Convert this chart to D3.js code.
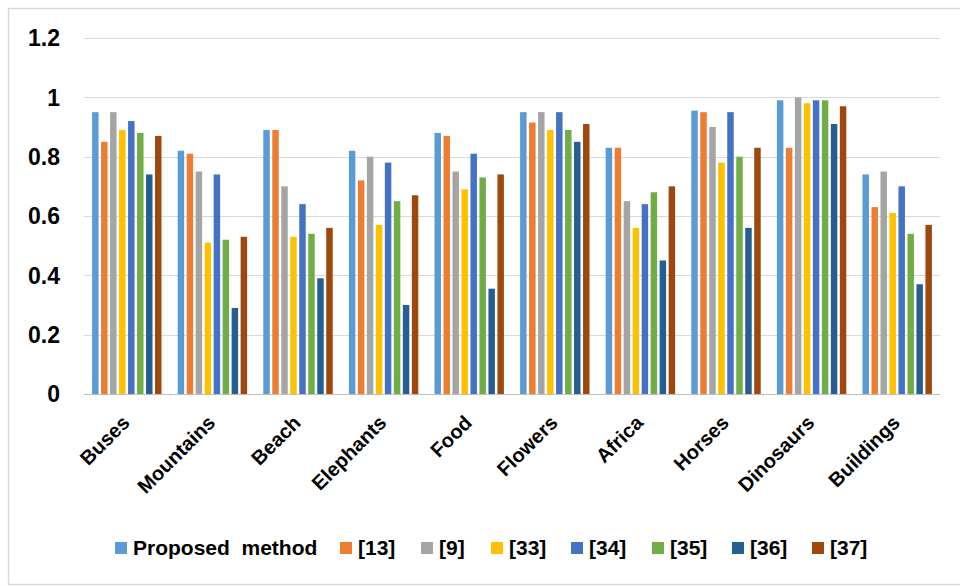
<!DOCTYPE html>
<html>
<head>
<meta charset="utf-8">
<script src="https://cdn.jsdelivr.net/npm/d3@7"></script>
<style>
  html, body { margin: 0; padding: 0; background: #ffffff; }
  svg { display: block; }
  text { font-family: "Liberation Sans", Arial, sans-serif; font-weight: bold; fill: #000; }
</style>
</head>
<body>
<svg id="chart" width="960" height="586"></svg>
<script>
// Image categories on the x axis
const categories = ["Buses", "Mountains", "Beach", "Elephants", "Food",
                    "Flowers", "Africa", "Horses", "Dinosaurs", "Buildings"];

// Methods compared (legend order)
const seriesNames = ["Proposed  method", "[13]", "[9]", "[33]", "[34]", "[35]", "[36]", "[37]"];
const seriesColors = ["#5B9BD5", "#ED7D31", "#A5A5A5", "#FFC000", "#4472C4", "#70AD47", "#255E91", "#9E480E"];

// Precision per category, one array per method
const proposed = [0.95, 0.82, 0.89, 0.82, 0.88, 0.95, 0.83, 0.955, 0.99, 0.74];
const ref13    = [0.85, 0.81, 0.89, 0.72, 0.87, 0.915, 0.83, 0.95, 0.83, 0.63];
const ref9     = [0.95, 0.75, 0.70, 0.80, 0.75, 0.95, 0.65, 0.90, 1.00, 0.75];
const ref33    = [0.89, 0.51, 0.53, 0.57, 0.69, 0.89, 0.56, 0.78, 0.98, 0.61];
const ref34    = [0.92, 0.74, 0.64, 0.78, 0.81, 0.95, 0.64, 0.95, 0.99, 0.70];
const ref35    = [0.88, 0.52, 0.54, 0.65, 0.73, 0.89, 0.68, 0.80, 0.99, 0.54];
const ref36    = [0.74, 0.29, 0.39, 0.30, 0.355, 0.85, 0.45, 0.56, 0.91, 0.37];
const ref37    = [0.87, 0.53, 0.56, 0.67, 0.74, 0.91, 0.70, 0.83, 0.97, 0.57];

// Y axis ticks
const yTicks = [0, 0.2, 0.4, 0.6, 0.8, 1, 1.2];
const yTickLabels = ["0", "0.2", "0.4", "0.6", "0.8", "1", "1.2"];

const seriesValues = [proposed, ref13, ref9, ref33, ref34, ref35, ref36, ref37];

const svg = d3.select("#chart");

// Outer chart frame
svg.append("rect")
  .attr("x", 8.5).attr("y", 8.5)
  .attr("width", 960).attr("height", 576)
  .attr("fill", "#fff")
  .attr("stroke", "#d9d9d9")
  .attr("stroke-width", 1.5);

const plotLeft = 84, plotRight = 940;

const x0 = d3.scaleBand()
  .domain(categories)
  .range([plotLeft, plotRight])
  .padding(0);

const x1 = d3.scaleBand()
  .domain(d3.range(seriesNames.length))
  .range([0, x0.bandwidth()])
  .paddingInner(0.28)
  .paddingOuter(0.9);

const y = d3.scaleLinear()
  .domain([0, 1.2])
  .range([394, 38]);

// Horizontal gridlines
svg.append("g")
  .selectAll("line")
  .data(yTicks.filter(d => d > 0))
  .join("line")
  .attr("x1", plotLeft).attr("x2", plotRight)
  .attr("y1", d => Math.round(y(d)) + 0.5)
  .attr("y2", d => Math.round(y(d)) + 0.5)
  .attr("stroke", "#d9d9d9")
  .attr("stroke-width", 1.2);

// Y tick labels
svg.append("g")
  .selectAll("text")
  .data(yTicks)
  .join("text")
  .attr("x", 60)
  .attr("y", d => y(d))
  .attr("dy", "0.36em")
  .attr("text-anchor", "end")
  .style("font-size", "23px")
  .text((d, i) => yTickLabels[i]);

// Bars
const groups = svg.append("g")
  .selectAll("g")
  .data(categories)
  .join("g")
  .attr("transform", d => `translate(${x0(d)},0)`);

groups.selectAll("rect")
  .data((c, ci) => seriesValues.map((vals, si) => ({ si, v: vals[ci] })))
  .join("rect")
  .attr("x", d => x1(d.si))
  .attr("width", x1.bandwidth())
  .attr("y", d => y(d.v))
  .attr("height", d => y(0) - y(d.v))
  .attr("fill", d => seriesColors[d.si]);

// Baseline axis
svg.append("line")
  .attr("x1", plotLeft).attr("x2", plotRight)
  .attr("y1", Math.round(y(0)) + 0.5).attr("y2", Math.round(y(0)) + 0.5)
  .attr("stroke", "#bfbfbf")
  .attr("stroke-width", 1.2);

// Rotated category labels
svg.append("g")
  .selectAll("text")
  .data(categories)
  .join("text")
  .attr("text-anchor", "end")
  .style("font-size", "20px")
  .attr("transform", d => `translate(${x0(d) + x0.bandwidth() / 2 + 4},${424}) rotate(-45)`)
  .text(d => d);

// Legend
const legendItems = [
  { sq: 115 }, { sq: 340 }, { sq: 421 }, { sq: 491 },
  { sq: 571 }, { sq: 652 }, { sq: 732 }, { sq: 812 }
];
const legend = svg.append("g");
const lx = d3.scaleOrdinal().domain(d3.range(seriesNames.length)).range(legendItems.map(d => d.sq));
const items = legend.selectAll("g")
  .data(seriesNames)
  .join("g")
  .attr("transform", (d, i) => `translate(${lx(i)},542)`);
items.append("rect")
  .attr("width", 12).attr("height", 12)
  .attr("fill", (d, i) => seriesColors[i]);
items.append("text")
  .attr("x", 18)
  .attr("y", 13)
  .style("font-size", "21px")
  .style("white-space", "pre")
  .text(d => d);
</script>
</body>
</html>
